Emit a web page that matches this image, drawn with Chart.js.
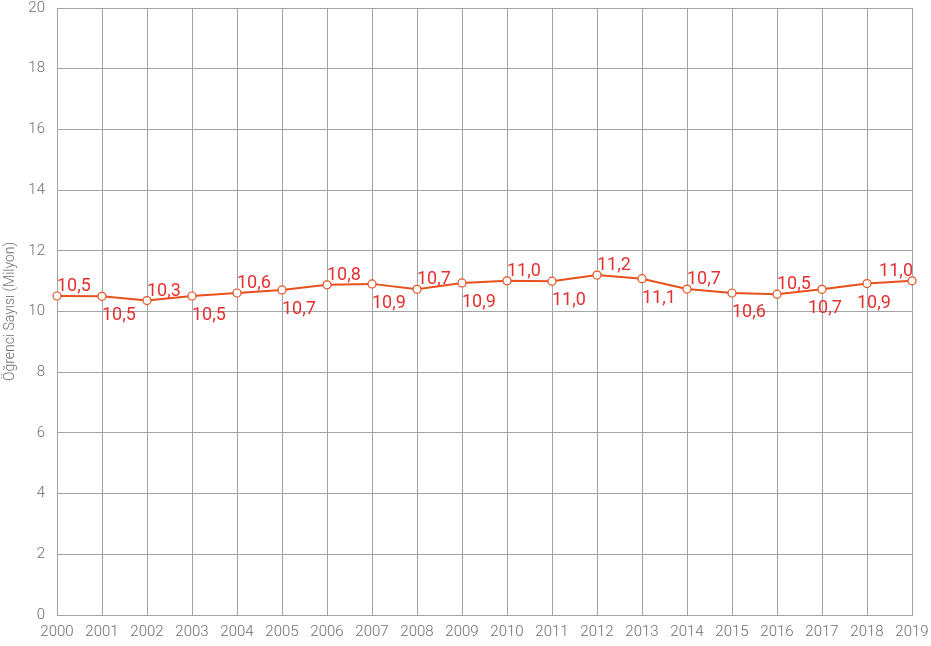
<!DOCTYPE html>
<html>
<head>
<meta charset="utf-8">
<script src="https://cdn.jsdelivr.net/npm/chart.js@4"></script>
<style>
  html, body { margin: 0; padding: 0; background: #fff; }
  #wrap { width: 931px; height: 646px; }
</style>
</head>
<body>
<div id="wrap"><canvas id="myChart" width="931" height="646"></canvas></div>
<script>
// datos
var yillar = ['2000','2001','2002','2003','2004','2005','2006','2007','2008','2009',
              '2010','2011','2012','2013','2014','2015','2016','2017','2018','2019'];
var ogrenci = [10.51, 10.50, 10.36, 10.51, 10.61, 10.71, 10.88, 10.91, 10.73, 10.94,
               11.01, 11.00, 11.20, 11.08, 10.74, 10.61, 10.57, 10.73, 10.92, 11.01];
// etiquetas tal como aparecen en el grafico
var etiquetas = ['10,5','10,5','10,3','10,5','10,6','10,7','10,8','10,9','10,7','10,9',
                 '11,0','11,0','11,2','11,1','10,7','10,6','10,5','10,7','10,9','11,0'];
var yTicks = [0, 2, 4, 6, 8, 10, 12, 14, 16, 18, 20];

var gris = '#a3a3a3';
var texto = '#6e6e6e';

// arriba (true) o abajo (false) de cada punto
var arriba = [true,false,true,false,true,false,true,false,true,false,
              true,false,true,false,true,false,true,false,false,true];

// plugin para pintar las etiquetas encima/debajo de cada punto
var etiquetasPlugin = {
    id: 'etiquetas',
    afterDatasetsDraw: function(chart){
        var ctx = chart.ctx;
        var meta = chart.getDatasetMeta(0);
        var area = chart.chartArea;
        ctx.save();
        ctx.font = '18px Roboto';
        ctx.fillStyle = '#e53030';
        ctx.textBaseline = 'alphabetic';
        meta.data.forEach(function(p, i){
            var txt = etiquetas[i];
            var w = ctx.measureText(txt).width;
            var x = p.x;
            // las dos penultimas se apartan un poco para no chocar
            if (i == 17) x = p.x - 14;
            if (i == 18) x = p.x - 10;
            if (x + w > area.right + 2) x = p.x - w + 1;
            if (arriba[i])
                ctx.fillText(txt, x, p.y - 5);
            else
                ctx.fillText(txt, x, p.y + 24);
        });
        ctx.restore();
    }
};

var ctx = document.getElementById('myChart').getContext('2d');
var chart = new Chart(ctx, {
    type: 'line',
    data: {
        labels: yillar,
        datasets: [{
            data: ogrenci,
            borderColor: '#e8501e',
            borderWidth: 2,
            backgroundColor: '#ffffff',
            pointBackgroundColor: '#ffffff',
            pointBorderColor: '#e8501e',
            pointBorderWidth: 1.2,
            pointRadius: 4,
            tension: 0,
            clip: 8
        }]
    },
    options: {
        responsive: false,
        animation: false,
        layout: { autoPadding: false, padding: 0 },
        plugins: {
            legend: { display: false },
            tooltip: { enabled: false }
        },
        scales: {
            x: {
                offset: false,
                afterFit: function(axis){
                    axis.height = 31;
                    axis.paddingLeft = 0;
                    axis.paddingRight = 19;
                },
                grid: { color: gris, lineWidth: 1, drawTicks: false },
                border: { color: gris },
                ticks: { color: texto, font: { family: 'Roboto', size: 15, weight: 300 }, padding: 8, maxRotation: 0, autoSkip: false }
            },
            y: {
                min: 0,
                max: 20,
                afterBuildTicks: function(axis){
                    axis.ticks = yTicks.map(function(v){ return { value: v }; });
                },
                afterFit: function(axis){
                    axis.width = 57;
                    axis.paddingTop = 8;
                    axis.paddingBottom = 0;
                },
                grid: { color: gris, lineWidth: 1, drawTicks: false },
                border: { color: gris },
                ticks: { color: texto, font: { family: 'Roboto', size: 15, weight: 300 }, padding: 12 },
                title: {
                    display: true,
                    text: 'Öğrenci Sayısı (Milyon)',
                    color: texto,
                    font: { family: 'Roboto', size: 14, weight: 300 },
                    padding: { top: 2, bottom: 4 }
                }
            }
        }
    },
    plugins: [etiquetasPlugin]
});
</script>
</body>
</html>
